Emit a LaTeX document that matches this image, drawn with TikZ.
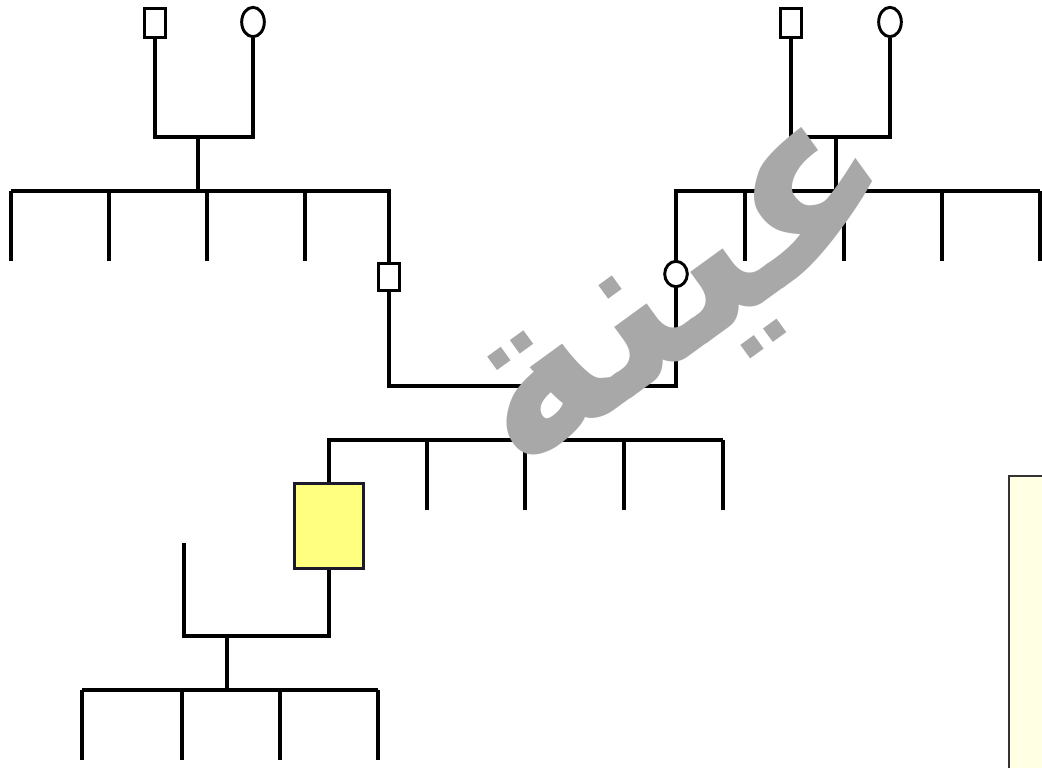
\documentclass[tikz,border=0pt]{standalone}
\usepackage{fontspec}
\usetikzlibrary{shapes.geometric}
\newfontfamily\arabicfont[Script=Arabic]{DejaVu Sans}
\TeXXeTstate=1
\definecolor{wmgray}{HTML}{A8A8A8}
\definecolor{probfill}{HTML}{FFFF80}
\definecolor{probline}{HTML}{1A1A2A}
\definecolor{notefill}{HTML}{FFFFE4}
\tikzset{
  male/.style={draw, rectangle, line width=2.2pt, fill=white, inner sep=0pt, minimum width=16pt, minimum height=22pt},
  female/.style={draw, ellipse, line width=2.2pt, fill=white, inner sep=0pt, minimum width=17pt, minimum height=22pt},
  proband/.style={draw=probline, rectangle, line width=2.4pt, fill=probfill, inner sep=0pt, minimum width=52pt, minimum height=64pt},
  tie/.style={line width=2.4pt}
}
\begin{document}
\begin{tikzpicture}[x=0.75pt,y=0.75pt,yscale=-1,xscale=1]
\useasboundingbox (0,0) rectangle (1042,768);

%Shape: Rectangle, note box at the right edge
\fill [notefill] (1009,476) rectangle (1042,768);
\draw [line width=1pt, black!80] (1009,768) -- (1009,476) -- (1042,476);

%Grandparents, left
\node [male] (gfL) at (155,23) {};
\node [female] (gmL) at (253,22) {};
\coordinate (cplL) at (198,137);
\coordinate (sibL) at (198,191);
\draw [tie] (gfL.south) |- (cplL) -| (gmL.south);
\draw [tie] (cplL) -- (sibL);

%Grandparents, right
\node [male] (gfR) at (791,23) {};
\node [female] (gmR) at (890,22) {};
\coordinate (cplR) at (836,137);
\coordinate (sibR) at (836,191);
\draw [tie] (gfR.south) |- (cplR) -| (gmR.south);
\draw [tie] (cplR) -- (sibR);

%Parents
\node [male, minimum height=20pt] (fa) at (389,277) {};
\node [female, minimum height=19pt] (mo) at (676,274) {};
\coordinate (cplM) at (531,386);
\coordinate (sibM) at (531,440);
\draw [tie] (fa.south) |- (cplM) -| (mo.south);
\draw [tie] (cplM) -- (sibM);

%Siblings of father
\foreach \x [count=\i] in {11,109,207,305}
  \coordinate (kL\i) at (\x,261);
\draw [tie] (kL1 |- sibL) -| (fa.north);
\foreach \i in {1,...,4}
  \draw [tie] (kL\i |- sibL) -- (kL\i);

%Siblings of mother
\foreach \x [count=\i] in {745,844,942,1040}
  \coordinate (kR\i) at (\x,261);
\draw [tie] (mo.north) |- (kR4 |- sibR);
\foreach \i in {1,...,4}
  \draw [tie] (kR\i |- sibR) -- (kR\i);

%Proband and siblings
\node [proband] (pr) at (329,526) {};
\foreach \x [count=\i] in {427,525,624,723}
  \coordinate (kM\i) at (\x,510);
\draw [tie] (pr.north) |- (kM4 |- sibM);
\foreach \i in {1,...,4}
  \draw [tie] (kM\i |- sibM) -- (kM\i);

%Spouse and children
\coordinate (sp) at (184,543);
\coordinate (cplB) at (227,636);
\coordinate (sibB) at (227,690);
\draw [tie] (sp) |- (cplB) -| (pr.south);
\draw [tie] (cplB) -- (sibB);
\foreach \x [count=\i] in {82,182,280,378}
  \coordinate (kB\i) at (\x,760);
\draw [tie] (kB1 |- sibB) -- (kB4 |- sibB);
\foreach \i in {1,...,4}
  \draw [tie] (kB\i |- sibB) -- (kB\i);

% Text Node, watermark
\node [text=wmgray, rotate=36, inner sep=0pt] (wm) at (692,304) {\arabicfont\bfseries\fontsize{172}{172}\selectfont\beginR عينة\endR};

\end{tikzpicture}
\end{document}
